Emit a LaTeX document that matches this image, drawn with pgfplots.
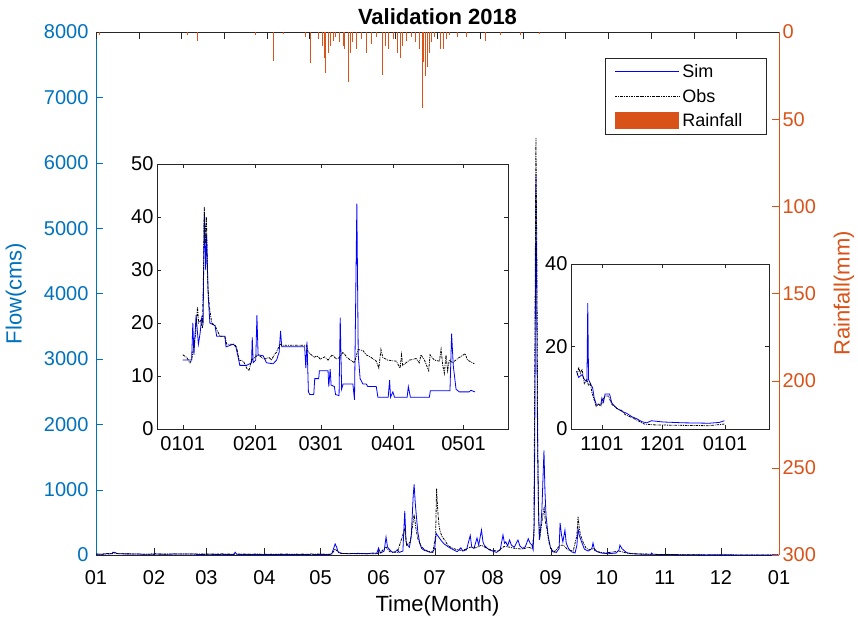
\documentclass[border=0pt]{standalone}
\usepackage{fontspec}
\setmainfont{Liberation Sans}
\usepackage{pgfplots}
\usepackage{pgfplotstable}
\pgfplotsset{compat=1.18}
\definecolor{flowc}{HTML}{0072BD}
\definecolor{rainc}{HTML}{D95319}
\definecolor{axgray}{RGB}{38,38,38}

\pgfplotstableread{
day val
0 13
3.8 13
4.3 20
4.8 14
5.7 21.5
6.7 16
7.4 18
8.1 21
8.7 20
9.2 41
9.8 30
10.2 36.5
10.9 25
11.6 20
13.8 19.5
14.5 17.5
18 17.5
18.5 15.5
21.6 16
22.7 15.5
23.7 13.5
24.4 12
27.3 12
29.4 12.5
29.7 17.3
30.1 12.5
31.2 13
31.7 21.5
32.2 14
34.4 13.8
35.8 12.5
38.6 12.3
40.1 13
41.2 14.5
41.8 18.5
42.3 15.5
52.1 15.5
52.6 11.5
53.1 16.5
53.7 7
54.3 6.5
56 6.5
56.4 9.5
58.1 9.5
58.4 11
62.1 11
62.4 8
63 11.3
63.4 8.3
64.8 8
65.3 6.5
66.8 6.3
67.3 21
67.9 7.5
68.5 8.5
72.7 8.5
73.4 5.5
74.4 42.5
75 14
75.8 9.5
77 8.5
78.4 8.5
79.1 8
82.7 8
83.4 6
87.8 6
88.4 9.2
88.8 6
89.8 7
90.5 6
95.9 6
96.4 8
97.3 6
105.4 6
105.8 7.2
114.2 7.2
114.9 18
115.6 12
116.8 7.5
118.2 7
122.4 7
123.1 7.3
124.9 7
126 20
127 100
127.8 170
128.6 120
129.5 40
131 25
135 20
140 25
145 20
148 30
150 25
151 107
152 30
154 60
155 275
155.8 120
157 80
158.5 40
160 50
161 80
162 40
164 60
165 673
165.7 200
166.5 150
167.5 120
168.5 300
169.5 900
170 1080
170.6 800
171.2 600
172 350
173 180
174 100
175.5 70
177 60
178.5 40
180 50
181 100
181.8 330
182.5 300
183.5 260
184.5 220
186 170
187.5 140
189 110
191 80
193 50
195 110
196 60
198 80
200 300
200.8 120
202 100
203.6 260
204.5 150
206 382
206.8 200
207.5 150
208.5 120
210 80
212 60
214 40
216 80
217.5 306
218.3 180
219 200
220 140
221 230
222 150
223.5 120
225.5 230
226.5 140
228 100
229.5 130
231 250
232 180
233 150
233.6 80
234.2 500
234.7 3000
235.1 5800
235.5 4000
235.9 2000
236.4 800
236.9 230
237.6 400
238.3 700
238.9 1200
239.4 1600
239.9 1000
240.5 600
241.6 300
242.8 120
244 50
246 40
247.5 100
248 490
248.8 300
249.5 200
250.6 380
251.3 180
252.5 100
254 50
256 30
257 150
257.6 400
258.3 300
259.5 200
261 90
263 60
265 100
265.6 183
266.5 70
268 50
270 30
274 20
278 30
279.5 80
280 150
281 100
282.5 60
284 30
287 20
290 16
291.4 14
292.5 12.5
294.2 13.2
295.3 12
296.6 11.5
297 30.5
297.4 12
298.3 11
299.4 10
300.2 7.5
301.2 6
303.5 6
304 7.5
304.8 6.5
305.6 8.5
307.8 8.5
308.9 6.3
311.4 5
313.8 4.3
316.3 3.8
318.8 3
321.2 2.5
323.7 1.8
326.1 1.5
328.6 2
334.3 1.7
344.2 1.5
357.3 1.4
362.2 1.6
364.7 2
}\simtab

\pgfplotstableread{
day val
0 14
1.7 13.5
3.1 12.5
3.8 13
4.5 15
5.5 18
6.3 23
6.8 20
7.7 20.5
8.4 19
8.9 30
9.2 42
9.7 35
10.1 40
10.7 27
11.4 23
12.4 20
13.8 19.5
15.9 17.5
18 17.5
18.8 16
21.9 16
23 15.5
24.1 13
25.9 12.8
27.3 11.5
28.3 11
29.4 13
30.8 13.5
32.2 14
33.7 13.5
35.1 13.2
36.9 13.5
37.9 13
39.1 14
40.1 14.5
41.5 16
42.9 15.8
52.8 15.8
53.6 14.5
55 14
56 13.5
57.4 13.8
58.8 13.2
60.7 13.6
62.1 13
63.9 14
65.6 13.2
67 13.5
68.5 14.5
70.2 13.5
71.6 13
73.4 12.5
74.9 15
77 14.8
78.4 14
80.5 13.5
82.7 12.8
83.8 11.5
84.7 15
85.5 13.5
87.6 13
91.2 12.8
92.9 11.5
93.5 14
94 12
96.9 13
99.7 13.3
101.1 12.5
101.8 14
103.3 13
105.1 11
105.7 14
107.5 13
109.7 12.8
110.4 15
111.1 12
111.8 10.5
112.5 14
113.2 11
113.9 13
115.3 12.5
117.5 13.3
120.7 14.2
121.7 13
124.6 12.3
126 15
127.8 90
129 60
131 25
140 20
150 20
152 40
155 120
157 50
161 40
165 400
166 150
168 200
170 620
171 400
172 250
174 120
177 60
180 40
181.5 300
182 1020
182.6 700
183.3 450
184 350
185 280
186.5 220
188 150
190 110
193 80
196 70
200 120
203 110
206 150
209 100
212 70
215 60
218 130
221 120
224 100
228 90
231 120
233 100
234 300
234.6 3500
235.1 6380
235.6 4500
236.1 1500
236.6 500
237.3 300
238 450
239 650
239.5 720
240.2 500
241 400
242 200
243 100
245 50
248 150
250 150
252 80
255 60
257 300
257.6 586
258.3 400
259 300
260.5 180
262 100
264 80
266 100
268 50
272 30
280 60
282 40
286 20
291.8 13
292.5 15
293.3 13.5
294.2 14.5
295.3 11
296.6 12
297.4 10.5
298.3 11
299 9
300.2 7
301.2 5.5
302.3 6
303.5 5.5
304.5 7
305.6 8
307.2 8
308.9 6
311.4 5
313.8 4.5
315.5 3.5
320 2.5
325 1.2
330 1.0
341 0.9
357 0.8
364.7 1.2
}\obstab

\pgfplotstableread{
day mm
2 1.5
48.6 2
54 5
85 2
94.6 16.5
100 1
111.7 3
114.4 18
118.6 4
120.8 8
122 15
122.6 23.7
124 12
125 8
126.6 5
128 3
130 6
132 8
133 10
134.7 28.5
135.7 12
136.8 6
139 10
141.6 4
144.3 12
147 7
150 3
152.8 24.7
154.4 8
156 10
158.7 4
160.8 12
162.5 15
164 8
166 5
168.3 3
170.5 6
172.6 10
174.2 43.6
175 17
175.8 25
176.9 20
178 12
179 6
181 3
183.8 10
185.4 10
187 4
189 2
193 3
198 3
208 5
216 2
226.6 2
237 1
}\raintab

\pgfplotsset{
  simstyle/.style={draw=blue, color=blue, line width=0.8pt},
  obsstyle/.style={draw=black, color=black, line width=0.8pt, dash pattern=on 2.5pt off 1pt on 0.8pt off 1pt},
  lineleg/.style={legend image code/.code={\draw[##1] (0pt,0pt) -- (64pt,0pt);}},
  rainlegimg/.style={legend image code/.code={\fill[fill=rainc, draw=none] (0pt,-8.5pt) rectangle (64pt,8.5pt);}},
}

\begin{document}
\begin{tikzpicture}
\useasboundingbox (0,0) rectangle (858pt,621pt);
% main flow axis
\begin{axis}[
  at={(96pt,66pt)}, anchor=south west, scale only axis,
  width=683pt, height=523pt,
  xmin=0, xmax=365, ymin=0, ymax=8000,
  axis x line*=bottom, axis y line*=left,
  axis line style={-},
  x axis line style={draw=axgray},
  y axis line style={draw=flowc},
  tick align=inside, major tick length=7pt,
  xtick={0,31,59,90,120,151,181,212,243,273,304,334,365},
  xticklabels={01,02,03,04,05,06,07,08,09,10,11,12,01},
  ytick={0,1000,...,8000},
  xtick style={draw=axgray}, ytick style={draw=flowc},
  /pgf/number format/assume math mode=true,
  /pgf/number format/1000 sep={},
  tick label style={font=\fontsize{20}{24}\selectfont},
  yticklabel style={text=flowc, xshift=-4pt},
  xticklabel style={yshift=-12pt},
  every axis x label/.style={at={(rel axis cs:0.5,0)}, anchor=center, yshift=-51pt, font=\fontsize{22}{26}\selectfont},
  every axis y label/.style={at={(rel axis cs:0,0.5)}, xshift=-80pt, rotate=90, anchor=center, font=\fontsize{22}{26}\selectfont, text=flowc},
  xlabel={Time(Month)}, ylabel={Flow(cms)},
  clip=true,
  legend cell align=left,
  legend style={at={(0.982,0.950)}, anchor=north east, draw=axgray, line width=0.6pt, fill=white,
    font=\fontsize{18}{20}\selectfont, inner xsep=9pt, inner ysep=4pt,
    nodes={inner ysep=2pt, inner xsep=3pt}, row sep=6pt},
]
\addplot[simstyle, lineleg] table[x=day,y=val] {\simtab};
\addlegendentry{Sim}
\addplot[obsstyle, lineleg] table[x=day,y=val] {\obstab};
\addlegendentry{Obs}
\addlegendimage{rainlegimg}
\addlegendentry{Rainfall\kern12pt}
\end{axis}
% rainfall axis
\begin{axis}[
  at={(96pt,66pt)}, anchor=south west, scale only axis,
  width=683pt, height=523pt,
  xmin=0, xmax=365, ymin=0, ymax=300, y dir=reverse,
  axis x line*=top, axis y line*=right,
  axis line style={-},
  x axis line style={draw=axgray},
  y axis line style={draw=rainc},
  tick align=inside, major tick length=7pt,
  xtick={0,22.8125,...,365}, xticklabels={},
  xtick style={draw=axgray},
  ytick={0,50,...,300}, ytick style={draw=rainc},
  /pgf/number format/assume math mode=true,
  tick label style={font=\fontsize{20}{24}\selectfont},
  yticklabel style={text=rainc},
  every axis y label/.style={at={(rel axis cs:1,0.5)}, xshift=65pt, rotate=90, anchor=center, font=\fontsize{22}{26}\selectfont, text=rainc},
  ylabel={Rainfall(mm)},
  title={Validation 2018},
  every axis title/.style={at={(rel axis cs:0.5,1)}, anchor=center, yshift=15pt, font=\fontsize{22}{26}\selectfont\bfseries},
]
\addplot[ycomb, draw=rainc, line width=0.8pt]
  table[x=day,y=mm] {\raintab};
\end{axis}
% inset 1
\begin{axis}[
  at={(157pt,192pt)}, anchor=south west, scale only axis,
  width=351pt, height=265pt,
  xmin=-11, xmax=139, ymin=0, ymax=50,
  axis background/.style={fill=white},
  axis line style={draw=axgray, line width=0.6pt},
  tick style={draw=axgray},
  tick align=inside, major tick length=4pt,
  xtick={0,31,59,90,120}, xticklabels={0101,0201,0301,0401,0501},
  ytick={0,10,...,50},
  /pgf/number format/assume math mode=true,
  tick label style={font=\fontsize{20}{24}\selectfont},
  xticklabel style={yshift=-4pt},
]
\addplot[simstyle, restrict x to domain=0:125] table[x=day,y=val] {\simtab};
\addplot[obsstyle, restrict x to domain=0:125] table[x=day,y=val] {\obstab};
\end{axis}
% inset 2
\begin{axis}[
  at={(571pt,192pt)}, anchor=south west, scale only axis,
  width=198pt, height=165pt,
  xmin=288.7, xmax=386.8, ymin=0, ymax=40,
  axis background/.style={fill=white},
  axis line style={draw=axgray, line width=0.6pt},
  tick style={draw=axgray},
  tick align=inside, major tick length=4pt,
  xtick={304,334,365}, xticklabels={1101,1201,0101},
  ytick={0,20,40},
  /pgf/number format/assume math mode=true,
  tick label style={font=\fontsize{20}{24}\selectfont},
  xticklabel style={yshift=-4pt},
]
\addplot[simstyle, restrict x to domain=291:366] table[x=day,y=val] {\simtab};
\addplot[obsstyle, restrict x to domain=291:366] table[x=day,y=val] {\obstab};
\end{axis}
\end{tikzpicture}
\end{document}
